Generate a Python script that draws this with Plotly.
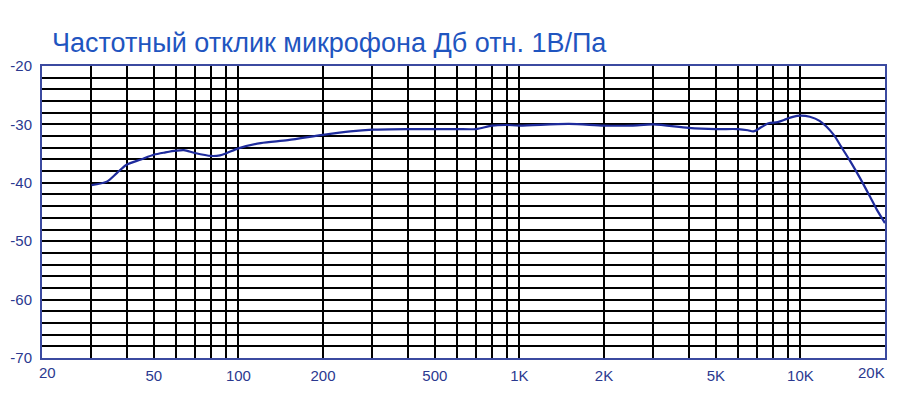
import plotly.graph_objects as go
import numpy as np

freq_hz = [30, 34, 37, 40, 45, 50, 55, 60, 64, 70, 80, 86, 91, 100, 120, 150, 200, 250,
           300, 400, 500, 600, 700, 800, 900, 1000, 1500, 2000, 2500, 3000, 4000, 5000,
           6000, 6500, 6800, 7300, 7700, 8300, 8900, 9400, 10000, 10800, 11700, 13100,
           14000, 15000, 16300, 17700, 18700, 20000]
level_db = [-40.4, -39.8, -38.3, -36.9, -36.0, -35.2, -34.8, -34.5, -34.4, -34.9, -35.4,
            -35.3, -34.9, -34.1, -33.2, -32.7, -31.8, -31.2, -30.9, -30.8, -30.8, -30.8,
            -30.8, -30.2, -30.1, -30.2, -29.9, -30.2, -30.2, -30.0, -30.6, -30.8, -30.8,
            -31.0, -31.2, -30.4, -29.8, -29.6, -29.1, -28.7, -28.5, -28.7, -29.4, -31.7,
            -33.9, -36.2, -39.2, -42.4, -44.6, -46.9]

x_grid = [30, 40, 50, 60, 70, 80, 90, 100, 200, 300, 400, 500, 600, 700, 800, 900,
          1000, 2000, 3000, 4000, 5000, 6000, 7000, 8000, 9000, 10000]
x_labels = {50: "50", 100: "100", 200: "200", 500: "500", 1000: "1K", 2000: "2K",
            5000: "5K", 10000: "10K"}
x_min, x_max = 20, 20000
edge_labels = ["20", "20K"]

y_grid = list(range(-70, -18, 2))
y_labels = {-70: "-70", -60: "-60", -50: "-50", -40: "-40", -30: "-30", -20: "-20"}

title_text = "Частотный отклик микрофона Дб отн. 1В/Па"

label_color = "#2b3990"
border_color = "#3b4aa0"
curve_color = "#1e2b9c"
font_family = "Liberation Sans, Arial, sans-serif"

fig = go.Figure()
fig.add_trace(go.Scatter(
    x=freq_hz, y=level_db, mode="lines",
    line=dict(color=curve_color, width=2.2, shape="spline", smoothing=0.8),
    hoverinfo="x+y", showlegend=False,
))

fig.update_layout(
    width=901, height=410,
    margin=dict(l=42, r=16, t=66, b=52, autoexpand=False),
    paper_bgcolor="white", plot_bgcolor="white",
    font=dict(family=font_family, color=label_color, size=15),
    title=dict(text=title_text, x=52 / 901, xanchor="left", xref="container",
               y=1 - 43 / 410, yanchor="middle", yref="container", automargin=False,
               font=dict(family=font_family, size=27, color="#1f55c0")),
    xaxis=dict(
        type="log", range=[np.log10(x_min), np.log10(x_max)], automargin=False,
        tickvals=x_grid, ticktext=[x_labels.get(v, "") for v in x_grid],
        showgrid=True, gridcolor="black", gridwidth=1.7,
        ticks="outside", ticklen=3, tickcolor="rgba(0,0,0,0)",
        showline=True, mirror=True, linecolor=border_color, linewidth=2,
        zeroline=False, tickfont=dict(size=15, color=label_color),
    ),
    yaxis=dict(
        range=[-70, -20], automargin=False,
        tickvals=y_grid, ticktext=[y_labels.get(v, "") for v in y_grid],
        showgrid=True, gridcolor="black", gridwidth=1.7,
        ticks="outside", ticklen=5, tickcolor="rgba(0,0,0,0)",
        showline=True, mirror=True, linecolor=border_color, linewidth=2,
        zeroline=False, tickfont=dict(size=15, color=label_color),
    ),
    annotations=[
        dict(x=np.log10(x_min), y=0, xref="x", yref="paper", text=edge_labels[0],
             showarrow=False, xanchor="left", yanchor="top", xshift=-5, yshift=-4,
             font=dict(size=15, color=label_color, family=font_family)),
        dict(x=np.log10(x_max), y=0, xref="x", yref="paper", text=edge_labels[1],
             showarrow=False, xanchor="right", yanchor="top", xshift=2, yshift=-4,
             font=dict(size=15, color=label_color, family=font_family)),
    ],
)

fig.write_html("out.html", config={"displayModeBar": False},
               post_script="document.body.style.margin='0';")
